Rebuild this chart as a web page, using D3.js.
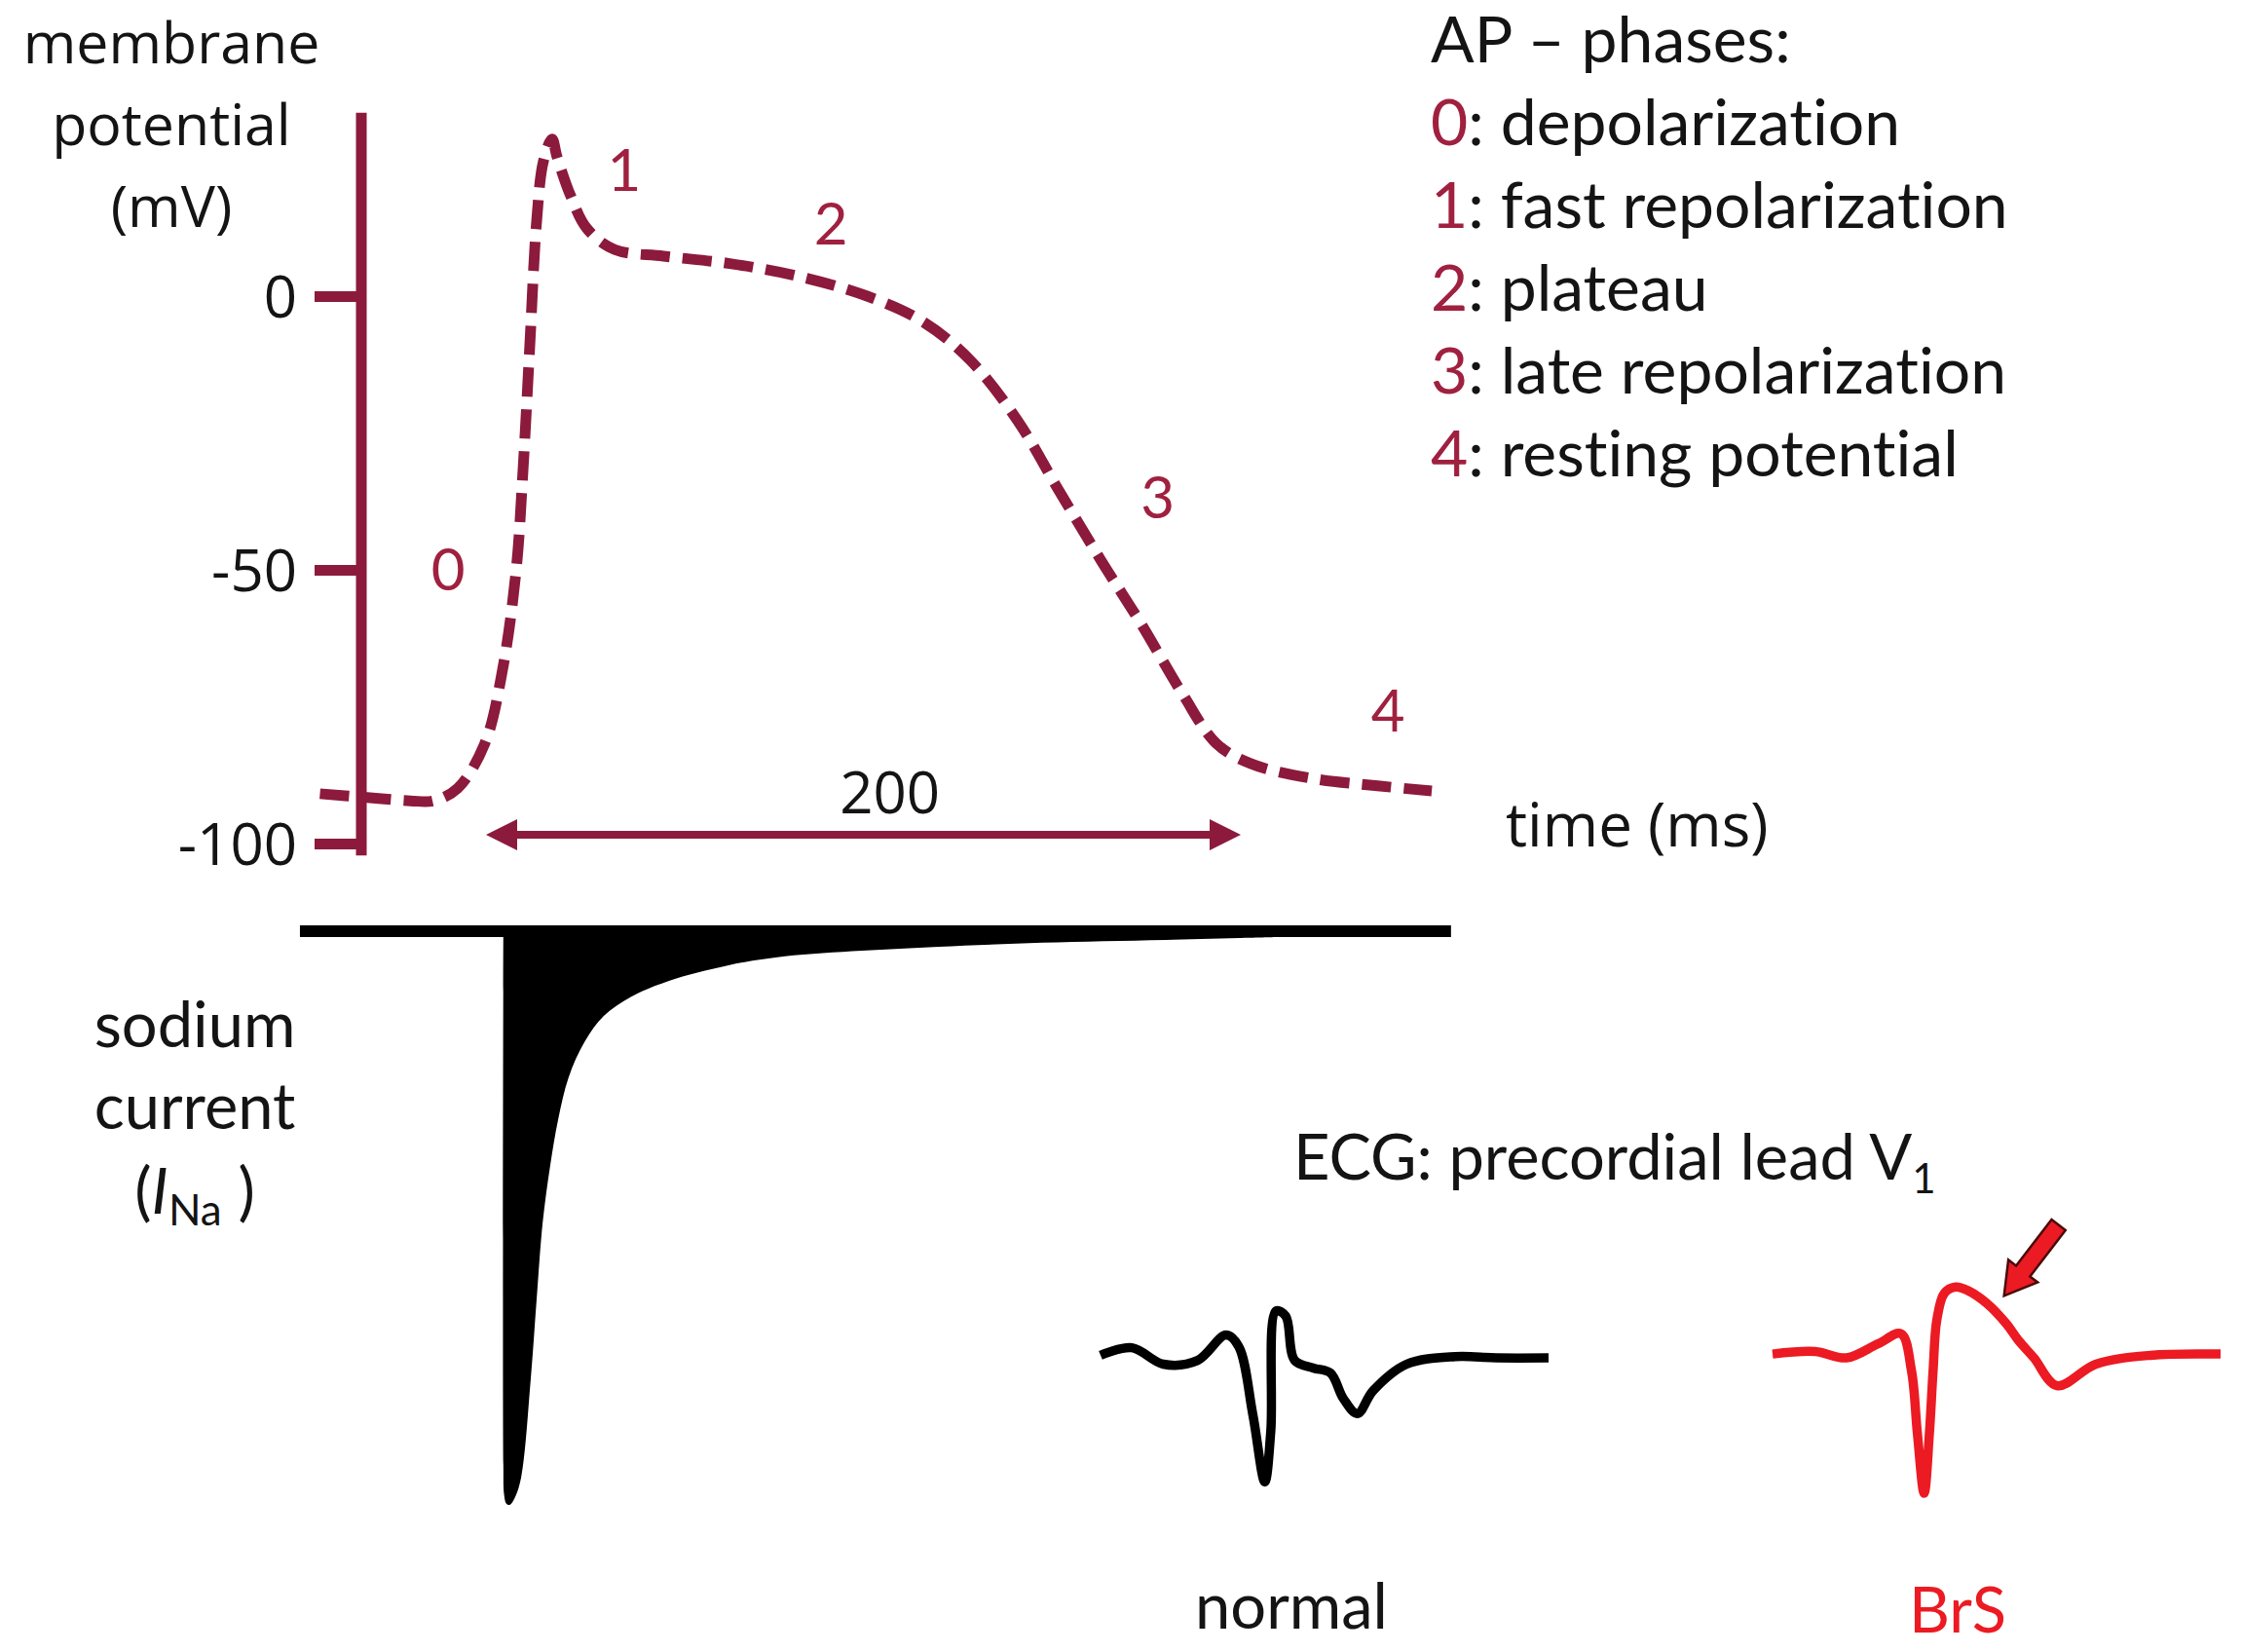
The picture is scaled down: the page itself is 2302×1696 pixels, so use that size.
<!DOCTYPE html>
<html>
<head>
<meta charset="utf-8">
<script src="https://cdn.jsdelivr.net/npm/d3@7"></script>
<style>
  html, body { margin: 0; padding: 0; background: #ffffff; }
  svg { display: block; }
  text { font-variant-ligatures: none; font-feature-settings: "liga" 0, "clig" 0; }
</style>
</head>
<body>
<svg id="chart" width="2302" height="1696"></svg>
<script>
// ---------------- data ----------------
// Action potential (time in ms, membrane potential in mV)
const apTime = [-44, -33, -20, -14, -7.5, -0.3, 4.4, 8.0, 9.8, 11.6, 13.4, 15.2, 17.5, 18.8, 22.5, 26.8, 34.1, 47, 65, 83, 101, 115.6, 128.3, 140.9, 151.7, 162.8, 173.7, 184.5, 193.5, 202.6, 218.8, 236.9, 250.6];
const apVoltage = [-90.9, -91.5, -92.2, -92.2, -89.9, -81.7, -68.2, -50, -31.9, -9.1, 13.5, 24.6, 28.7, 25.5, 18.2, 12.3, 8.5, 7.3, 5.9, 3.6, 0, -4.6, -11.7, -22.8, -35.4, -48.1, -60, -72.6, -81.7, -85.4, -88.1, -89.5, -90.4];
const apTicks = [0, -50, -100];
const apTickLabels = ["0", "-50", "-100"];
const apDuration = [0, 200];          // double arrow, ms
const apDurationLabel = "200";
const phaseNames = ["0", "1", "2", "3", "4"];
const phaseLabelTime = [-10, 36.6, 91.4, 178, 239];
const phaseLabelVoltage = [-53.7, 19.2, 9.4, -40.6, -79.5];
const phaseDescriptions = ["depolarization", "fast repolarization", "plateau", "late repolarization", "resting potential"];

// Sodium current outline (time in ms, normalised current)
const naTime = [4.6, 4.6, 4.8, 5.4, 6.3, 7.6, 9.3, 11.9, 13.4, 15.0, 17.0, 19.1, 21.9, 26.1, 31.2, 38.5, 48.5, 64.0, 79.2, 99.6, 120, 147.4, 180, 209.5];
const naCurrent = [0, -93, -98.2, -99.8, -100, -98.8, -95.2, -77.5, -64.0, -50.4, -40.3, -32.2, -24.7, -18.5, -13.9, -10.5, -7.7, -5.0, -3.4, -2.4, -1.7, -1.0, -0.5, 0];
const naBaseline = [-49.3, 255.7];

// ECG lead V1 (time in ms, mV)
const ecgTimeNormal = [0, 42, 84, 130, 168, 185, 204, 220, 228, 235, 248, 260, 285, 308, 325, 344, 365, 410, 475, 530, 600];
const ecgNormal = [0.02, 0.08, -0.05, -0.02, 0.18, 0.09, -0.45, -0.98, -0.58, 0.37, 0.33, -0.02, -0.08, -0.12, -0.32, -0.44, -0.26, -0.05, 0.01, 0, 0];
const ecgTimeBrS = [0, 57, 99, 141, 172, 186, 194, 203, 210, 215, 220, 230, 245, 262, 287, 313, 329, 350, 381, 433, 506, 600];
const ecgBrS = [0.03, 0.05, 0, 0.11, 0.19, -0.1, -0.6, -1.07, -0.6, -0.1, 0.3, 0.51, 0.56, 0.53, 0.43, 0.27, 0.14, 0, -0.22, -0.05, 0.02, 0.03];
const brsArrowTime = [383, 310];      // tail, tip
const brsArrowValue = [1.05, 0.49];

// ---------------- style ----------------
const MAROON = "#8c1a3c";
const PHASE_RED = "#a0203f";
const TEXT = "#141414";
const RED = "#ec1a22";
const SEGOE = "'Open Sans', 'DejaVu Sans', sans-serif";
const CALIBRI = "Lato, 'Open Sans', sans-serif";

const svg = d3.select("#chart");

// ---------------- action potential ----------------
const x = d3.scaleLinear().domain([0, 200]).range([499, 1274]);
const y = d3.scaleLinear().domain([-100, 0]).range([866, 304]);

// y-axis
const axisX = 371;
const yAxis = d3.axisLeft(y).tickValues(apTicks).tickSize(48).tickPadding(18)
  .tickFormat((d, i) => apTickLabels[i]);
const gAxis = svg.append("g").attr("transform", `translate(${axisX},0)`).call(yAxis);
gAxis.select(".domain").remove();
gAxis.selectAll(".tick line").attr("stroke", MAROON).attr("stroke-width", 11);
gAxis.selectAll(".tick text").attr("fill", TEXT).style("font-family", SEGOE).style("font-size", "60px").attr("dy", "0.36em");
svg.append("line")
  .attr("x1", axisX).attr("x2", axisX)
  .attr("y1", y(33.5)).attr("y2", y(-102.2))
  .attr("stroke", MAROON).attr("stroke-width", 11);

// y axis title
const yTitle = ["membrane", "potential", "(mV)"];
svg.append("g").selectAll("text").data(yTitle).join("text")
  .attr("x", 176).attr("y", (d, i) => 65 + i * 84)
  .attr("text-anchor", "middle")
  .style("font-family", SEGOE).style("font-size", "59px").attr("fill", TEXT)
  .text(d => d);

// duration arrow
const arrowY = y(-98.4);
const ax0 = x(apDuration[0]), ax1 = x(apDuration[1]);
const headL = 32, headW = 16;
svg.append("line").attr("x1", ax0 + headL - 2).attr("x2", ax1 - headL + 2)
  .attr("y1", arrowY).attr("y2", arrowY)
  .attr("stroke", MAROON).attr("stroke-width", 8);
svg.append("path")
  .attr("d", `M${ax0},${arrowY} L${ax0 + headL},${arrowY - headW} L${ax0 + headL},${arrowY + headW} Z`)
  .attr("fill", MAROON);
svg.append("path")
  .attr("d", `M${ax1},${arrowY} L${ax1 - headL},${arrowY - headW} L${ax1 - headL},${arrowY + headW} Z`)
  .attr("fill", MAROON);
svg.append("text").attr("x", x(107)).attr("y", 835)
  .attr("text-anchor", "middle")
  .style("font-family", SEGOE).style("font-size", "60px").attr("fill", TEXT)
  .text(apDurationLabel);

// time label
svg.append("text").attr("x", 1546).attr("y", 869)
  .style("font-family", SEGOE).style("font-size", "62px").attr("fill", TEXT)
  .text("time (ms)");

// AP curve
const apData = apTime.map((t, i) => [t, apVoltage[i]]);
const apLine = d3.line().x(d => x(d[0])).y(d => y(d[1])).curve(d3.curveCatmullRom.alpha(0.5));
svg.append("path").datum(apData)
  .attr("d", apLine)
  .attr("fill", "none").attr("stroke", MAROON).attr("stroke-width", 11)
  .attr("stroke-dasharray", "30,13");

// phase labels
svg.append("g").selectAll("text").data(phaseNames).join("text")
  .attr("x", (d, i) => x(phaseLabelTime[i]))
  .attr("y", (d, i) => y(phaseLabelVoltage[i]))
  .attr("text-anchor", "middle")
  .style("font-family", CALIBRI).style("font-size", "60px").attr("fill", PHASE_RED)
  .text(d => d);

// legend
const lg = svg.append("g").style("font-family", CALIBRI).style("font-size", "66px");
lg.append("text").attr("x", 1469).attr("y", 64).attr("fill", TEXT).text("AP \u2013 phases:");
phaseNames.forEach((p, i) => {
  const t = lg.append("text").attr("x", 1469).attr("y", 149 + i * 85);
  t.append("tspan").attr("fill", PHASE_RED).text(p);
  t.append("tspan").attr("fill", TEXT).text(": " + phaseDescriptions[i]);
});

// ---------------- sodium current ----------------
const iy = d3.scaleLinear().domain([-100, 0]).range([1545, 962]);
svg.append("line")
  .attr("x1", x(naBaseline[0])).attr("x2", x(naBaseline[1]))
  .attr("y1", iy(0) - 6).attr("y2", iy(0) - 6)
  .attr("stroke", "#000").attr("stroke-width", 12);
const naData = naTime.map((t, i) => [t, naCurrent[i]]);
const naLine = d3.line().x(d => x(d[0])).y(d => iy(d[1])).curve(d3.curveCatmullRom.alpha(0.5));
svg.append("path").datum(naData)
  .attr("d", naLine(naData) + "Z")
  .attr("fill", "#000");

const naLab = svg.append("g").style("font-family", CALIBRI).style("font-size", "65px").attr("fill", TEXT)
  .attr("text-anchor", "middle");
naLab.append("text").attr("x", 200).attr("y", 1075).text("sodium");
naLab.append("text").attr("x", 200).attr("y", 1159).text("current");
const inaT = naLab.append("text").attr("x", 200).attr("y", 1246);
inaT.append("tspan").text("(");
inaT.append("tspan").style("font-style", "italic").text("I");
inaT.append("tspan").style("font-size", "44px").attr("dy", 12).text("Na");
inaT.append("tspan").attr("dy", -12).text("\u00a0)");

// ---------------- ECG ----------------
const ey = d3.scaleLinear().domain([-1, 1]).range([1524, 1264]);
const exN = d3.scaleLinear().domain([0, 600]).range([1130, 1590]);
const exB = d3.scaleLinear().domain([0, 600]).range([1820, 2280]);

const ecgT = svg.append("text").attr("x", 1328).attr("y", 1211)
  .style("font-family", CALIBRI).style("font-size", "65px").attr("fill", TEXT);
ecgT.append("tspan").text("ECG: precordial lead V");
ecgT.append("tspan").style("font-size", "42px").attr("dy", 14).text("1");

const nData = ecgTimeNormal.map((t, i) => [t, ecgNormal[i]]);
svg.append("path").datum(nData)
  .attr("d", d3.line().x(d => exN(d[0])).y(d => ey(d[1])).curve(d3.curveCatmullRom.alpha(0.5)))
  .attr("fill", "none").attr("stroke", "#000").attr("stroke-width", 9.5)
  .attr("stroke-linejoin", "round").attr("stroke-linecap", "butt");

const bData = ecgTimeBrS.map((t, i) => [t, ecgBrS[i]]);
svg.append("path").datum(bData)
  .attr("d", d3.line().x(d => exB(d[0])).y(d => ey(d[1])).curve(d3.curveCatmullRom.alpha(0.5)))
  .attr("fill", "none").attr("stroke", RED).attr("stroke-width", 9.5)
  .attr("stroke-linejoin", "round").attr("stroke-linecap", "butt");

// red arrow pointing at the ST elevation
(function () {
  const tx = exB(brsArrowTime[0]), ty = ey(brsArrowValue[0]);
  const hx = exB(brsArrowTime[1]), hy = ey(brsArrowValue[1]);
  const dx = hx - tx, dy = hy - ty, len = Math.hypot(dx, dy);
  const ux = dx / len, uy = dy / len, px = -uy, py = ux;
  const sw = 9, hw = 19, hl = 32;
  const bx = hx - ux * hl, by = hy - uy * hl;
  const pts = [
    [tx + px * sw, ty + py * sw], [bx + px * sw, by + py * sw], [bx + px * hw, by + py * hw],
    [hx, hy], [bx - px * hw, by - py * hw], [bx - px * sw, by - py * sw], [tx - px * sw, ty - py * sw]
  ];
  svg.append("path").attr("d", d3.line()(pts) + "Z")
    .attr("fill", RED).attr("stroke", "#4a0a0a").attr("stroke-width", 2.5).attr("stroke-linejoin", "miter");
})();

svg.append("text").attr("x", 1326).attr("y", 1672).attr("text-anchor", "middle")
  .style("font-family", CALIBRI).style("font-size", "65px").attr("fill", TEXT).text("normal");
svg.append("text").attr("x", 2010).attr("y", 1676).attr("text-anchor", "middle")
  .style("font-family", CALIBRI).style("font-size", "65px").attr("fill", RED).text("BrS");
</script>
</body>
</html>
